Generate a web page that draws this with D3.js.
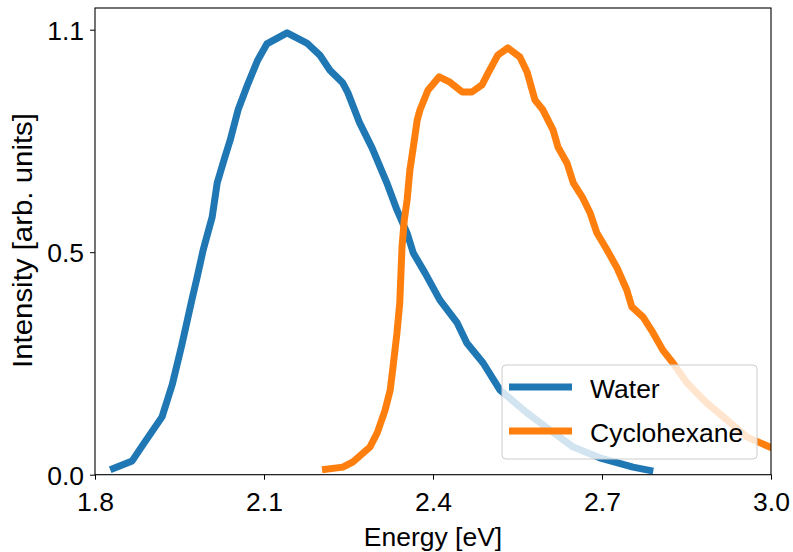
<!DOCTYPE html>
<html><head><meta charset="utf-8">
<script src="https://cdn.jsdelivr.net/npm/d3@7"></script>
<style>
html,body{margin:0;padding:0;background:#fff;}
svg{display:block;font-family:"Liberation Sans",Arial,Helvetica,sans-serif;}
</style></head>
<body><svg id="chart" width="793" height="552"></svg>
<script>
// ---- data ----
const waterEnergy = [1.827,1.866,1.885,1.919,1.937,1.954,1.972,1.981,1.992,2.008,2.017,2.029,2.040,2.054,2.072,2.089,2.105,2.141,2.176,2.199,2.217,2.240,2.249,2.270,2.292,2.318,2.336,2.354,2.365,2.386,2.412,2.443,2.460,2.489,2.519,2.567,2.608,2.649,2.696,2.755,2.791];
const waterIntensity = [0.011,0.031,0.067,0.130,0.202,0.291,0.393,0.442,0.505,0.579,0.656,0.707,0.752,0.820,0.880,0.932,0.968,0.993,0.970,0.943,0.909,0.880,0.858,0.790,0.734,0.656,0.595,0.543,0.498,0.453,0.393,0.341,0.296,0.251,0.190,0.139,0.100,0.062,0.038,0.017,0.008];
const cycloEnergy = [2.203,2.240,2.258,2.288,2.301,2.315,2.324,2.329,2.336,2.341,2.345,2.349,2.354,2.359,2.365,2.372,2.377,2.391,2.411,2.430,2.452,2.469,2.487,2.498,2.515,2.533,2.554,2.567,2.581,2.595,2.613,2.622,2.638,2.649,2.665,2.679,2.691,2.709,2.727,2.744,2.753,2.773,2.791,2.808,2.826,2.851,2.886,2.922,2.957,2.998,3.010];
const cycloIntensity = [0.011,0.017,0.029,0.062,0.094,0.145,0.190,0.242,0.318,0.386,0.512,0.572,0.617,0.685,0.736,0.797,0.820,0.864,0.894,0.882,0.860,0.860,0.876,0.903,0.943,0.959,0.939,0.905,0.842,0.820,0.775,0.736,0.700,0.656,0.624,0.588,0.543,0.505,0.464,0.415,0.377,0.354,0.318,0.280,0.251,0.206,0.161,0.123,0.085,0.062,0.058];
const seriesNames = ["Water","Cyclohexane"];
const seriesColors = ["#1f77b4","#ff7f0e"];
const xTickValues = [1.8,2.1,2.4,2.7,3.0];
const xTickLabels = ["1.8","2.1","2.4","2.7","3.0"];
const yTickValues = [0,0.5,1.0];
const yTickLabels = ["0.0","0.5","1.1"];
const xLabel = "Energy [eV]";
const yLabel = "Intensity [arb. units]";

// ---- layout ----
const svg = d3.select("#chart");
const L = 95, R = 771, T = 8, B = 474.7;
const FS = 26.5;
const x = d3.scaleLinear().domain([1.8,3.0]).range([L,R]);
const y = d3.scaleLinear().domain([0,(B-T)/445]).range([B,T]);

svg.append("defs").append("clipPath").attr("id","clip")
  .append("rect").attr("x",L).attr("y",T).attr("width",R-L).attr("height",B-T);

const series = [
  {name:seriesNames[0], color:seriesColors[0], pts:waterEnergy.map((e,i)=>[e,waterIntensity[i]])},
  {name:seriesNames[1], color:seriesColors[1], pts:cycloEnergy.map((e,i)=>[e,cycloIntensity[i]])}
];
const line = d3.line().x(d=>x(d[0])).y(d=>y(d[1]));
const g = svg.append("g").attr("clip-path","url(#clip)");
series.forEach(s=>{
  g.append("path").attr("d",line(s.pts)).attr("fill","none")
   .attr("stroke",s.color).attr("stroke-width",7).attr("stroke-linejoin","round").attr("stroke-linecap","butt");
});

// axes
const xAxis = d3.axisBottom(x).tickValues(xTickValues).tickFormat((d,i)=>xTickLabels[i]).tickSize(5).tickPadding(6);
const yAxis = d3.axisLeft(y).tickValues(yTickValues).tickFormat((d,i)=>yTickLabels[i]).tickSize(5).tickPadding(6);
const gx = svg.append("g").attr("transform",`translate(0,${B})`).call(xAxis);
const gy = svg.append("g").attr("transform",`translate(${L},0)`).call(yAxis);
[gx,gy].forEach(a=>{
  a.select(".domain").remove();
  a.selectAll(".tick line").attr("stroke","#000").attr("stroke-width",1);
  a.selectAll(".tick text").attr("font-size",FS).attr("fill","#000")
   .attr("font-family","'Liberation Sans',Arial,sans-serif");
});
gx.selectAll(".tick text").attr("dy","0.95em");
gy.selectAll(".tick text").attr("dy","0.36em");

// frame
svg.append("rect").attr("x",L).attr("y",T).attr("width",R-L).attr("height",B-T)
  .attr("fill","none").attr("stroke","#000").attr("stroke-width",1.1);

// axis labels
svg.append("text").attr("x",(L+R)/2).attr("y",546).attr("text-anchor","middle")
  .attr("font-size",FS).attr("fill","#000").text(xLabel);
svg.append("text").attr("transform",`translate(32,240.5) rotate(-90)`).attr("text-anchor","middle")
  .attr("font-size",27.5).attr("textLength",255).attr("lengthAdjust","spacingAndGlyphs")
  .attr("fill","#000").text(yLabel);

// legend
const lg = svg.append("g");
lg.append("rect").attr("x",502).attr("y",365).attr("width",255).attr("height",94).attr("rx",4)
  .attr("fill","#fff").attr("fill-opacity",0.8).attr("stroke","#cccccc").attr("stroke-width",1);
series.forEach((s,i)=>{
  const yy = 387 + i*44;
  lg.append("line").attr("x1",509).attr("x2",572).attr("y1",yy).attr("y2",yy)
    .attr("stroke",s.color).attr("stroke-width",7);
  lg.append("text").attr("x",590).attr("y",yy+11).attr("font-size",FS).attr("fill","#000").text(s.name);
});
</script></body></html>
